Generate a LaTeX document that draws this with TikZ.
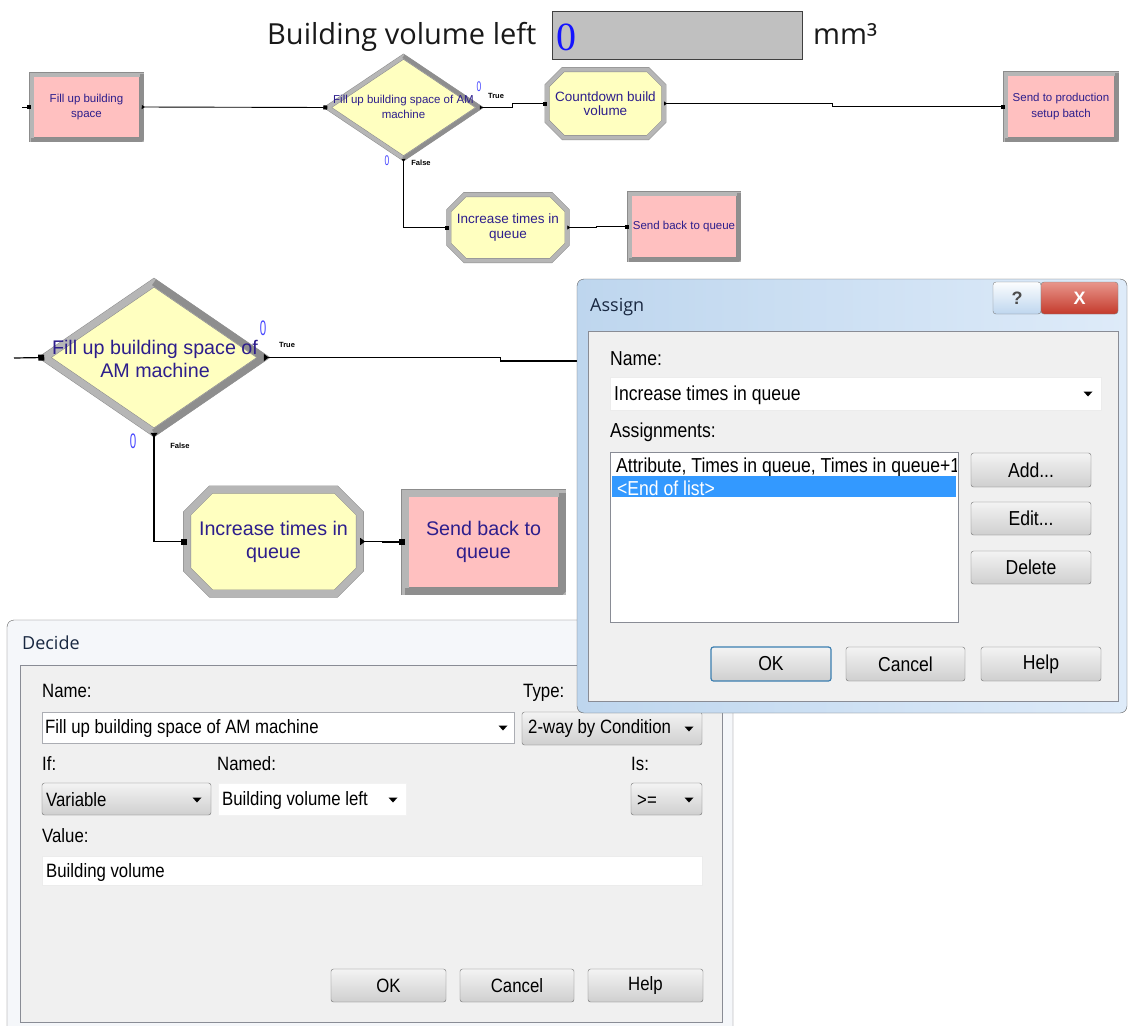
\documentclass[tikz,border=0pt]{standalone}
\usepackage{fontspec}
\usepackage{graphicx}
\setmainfont{Liberation Sans}
\newfontfamily\uifont{Open Sans}
\newfontfamily\numfont{Liberation Serif}
\newfontfamily\dlgfamily[FakeStretch=0.87]{Liberation Sans}
\usetikzlibrary{arrows.meta,shapes.geometric,shapes.misc}

\definecolor{modpink}{RGB}{255,192,192}
\definecolor{modyel}{RGB}{255,255,192}
\definecolor{bevgray}{RGB}{182,182,182}
\definecolor{bevdark}{RGB}{140,140,140}
\definecolor{bevshade}{RGB}{142,142,142}
\definecolor{modtext}{RGB}{45,30,140}
\definecolor{cntblue}{RGB}{70,70,255}
\definecolor{valblue}{RGB}{20,20,255}
\definecolor{boxgray}{RGB}{192,192,192}
\definecolor{panel}{RGB}{240,240,240}
\definecolor{paneledge}{RGB}{137,140,149}
\definecolor{selblue}{RGB}{51,153,255}
\definecolor{boxedge}{RGB}{171,173,179}
\definecolor{btnedge}{RGB}{112,112,112}
\definecolor{btntop}{RGB}{243,243,243}
\definecolor{btnbot}{RGB}{207,207,207}
\definecolor{framewhite}{RGB}{245,247,250}
\definecolor{frameedge}{RGB}{95,95,95}
\definecolor{glassA}{RGB}{190,214,238}
\definecolor{glassB}{RGB}{222,235,249}
\definecolor{titletext}{RGB}{25,40,65}
\definecolor{defbtn}{RGB}{60,127,177}

\newcommand\fsm{\fontsize{11.5}{15.5}\selectfont}
\newcommand\fas{\fontsize{13.5}{14.5}\selectfont}
\newcommand\fbig{\fontsize{19.7}{23}\selectfont}
\newcommand\dlgA{\dlgfamily\fontsize{20.2}{22}\selectfont}
\newcommand\dlgD{\dlgfamily\fontsize{19.3}{21}\selectfont}
\newcommand\wintitle{\uifont\fontsize{18}{20}\selectfont}

\begin{document}
\begin{tikzpicture}[x=1pt, y=-1pt,
    bevel/.style={draw=bevdark, line width=0.5pt, double=bevgray, double distance=#1},
    pinksm/.style={rectangle, bevel=4pt, fill=modpink, text=modtext, align=center, inner sep=0pt},
    pinkbig/.style={rectangle, bevel=7pt, fill=modpink, text=modtext, align=center, inner sep=0pt},
    yelsm/.style={chamfered rectangle, chamfered rectangle xsep=8pt, chamfered rectangle ysep=8pt,
      bevel=4pt, fill=modyel, text=modtext, align=center, inner sep=0pt},
    yelbig/.style={chamfered rectangle, chamfered rectangle xsep=12pt, chamfered rectangle ysep=12pt,
      bevel=7pt, fill=modyel, text=modtext, align=center, inner sep=0pt},
    decsm/.style={diamond, bevel=4pt, fill=modyel, inner sep=0pt},
    decbig/.style={diamond, bevel=7pt, fill=modyel, inner sep=0pt},
    shadesm/.style={draw=bevshade, line width=4pt, line join=bevel},
    shadebig/.style={draw=bevshade, line width=7pt, line join=bevel},
    dtxt/.style={text=modtext, align=center, inner sep=0pt},
    cnt/.style={text=cntblue, inner sep=0pt},
    tf/.style={font=\bfseries\fontsize{7.5}{8}\selectfont, inner sep=0pt},
    link/.style={line width=0.9pt, {Triangle[reversed,length=3pt,width=4pt]}-{Square[length=4pt,width=4pt]}},
    stub/.style={line width=0.9pt, -{Square[length=4pt,width=4pt]}},
    biglink/.style={line width=1.2pt, {Triangle[reversed,length=5pt,width=7pt]}-{Square[length=6pt,width=6pt]}},
    bigstub/.style={line width=1.2pt, -{Square[length=6pt,width=6pt]}},
    bigout/.style={line width=1.2pt, {Triangle[reversed,length=5pt,width=7pt]}-},
    lbl/.style={anchor=base west, inner sep=0pt},
    wbox/.style={draw=boxedge, fill=white, inner sep=0pt},
    gbtn/.style={draw=btnedge, rounded corners=2.5pt, top color=btntop, bottom color=btnbot, inner sep=0pt},
  ]
  \useasboundingbox (0,0) rectangle (1128,1026);
  \clip (0,0) rectangle (1128,1026);
  \fill[white] (0,0) rectangle (1128,1026);

  % variable display
  \node[lbl, font=\uifont\fontsize{29}{30}\selectfont, text=black!90] (bvlabel) at (267,44) {Building volume left};
  \node[draw=black!75, line width=1.2pt, fill=boxgray, minimum width=250pt, minimum height=48pt, inner sep=0pt] (bvbox) at (677.5,35.5) {};
  \node[lbl, font=\numfont\fontsize{40}{40}\selectfont, text=valblue] (bvval) at (556,50) {0};
  \node[lbl, font=\uifont\fontsize{29}{30}\selectfont, text=black!90] (bvunit) at (813,44) {mm³};

  % small flowchart
  \node[pinksm, minimum width=110pt, minimum height=65pt, font=\fsm] (fillA) at (86.5,107) {Fill up building\\space};
  \node[decsm, minimum width=152pt, minimum height=102pt] (d1) at (403.5,107.5) {};
  \node[yelsm, minimum width=116pt, minimum height=68pt, font=\fas] (cntA) at (605.5,103.5) {Countdown build\\volume};
  \node[pinksm, minimum width=111pt, minimum height=66pt, font=\fsm] (sendP) at (1061,106.5) {Send to production\\setup batch};
  \node[yelsm, minimum width=115pt, minimum height=66pt, font=\fas] (incA) at (508,227.5) {Increase times in\\queue};
  \node[pinksm, minimum width=109pt, minimum height=66pt, font=\fsm] (backA) at (684,226.5) {Send back to queue};
  \foreach \m in {fillA, sendP, backA}
    \draw[shadesm] (\m.north east) -- (\m.south east) -- (\m.south west);
  \draw[shadesm] (d1.north) -- (d1.east) -- (d1.south);
  \node[dtxt, font=\fsm] (d1txt) at (403.5,107) {Fill up building space of AM\\machine};

  \node[cnt, font=\fontsize{14}{14}\selectfont] (d1cT) at (479,87) {\scalebox{0.6}[1]{0}};
  \node[tf] (d1T) at (496,96) {True};
  \node[cnt, font=\fontsize{14}{14}\selectfont] (d1cF) at (387,161) {\scalebox{0.6}[1]{0}};
  \node[tf] (d1F) at (421,163) {False};

  \coordinate (inA) at (22,107);
  \draw[stub] (inA) -- (fillA.west);
  \draw[link] (fillA.east) -- (d1.west);
  \draw[link] (d1.east) -- ++(33,0) |- (cntA.west);
  \draw[link] (cntA.east) -- ++(168,0) |- (sendP.west);
  \draw[link] (d1.south) |- (incA.west);
  \draw[link] (incA.east) -- ++(29,0) |- (backA.west);

  % enlarged part
  \node[decbig, minimum width=219pt, minimum height=150pt] (d2) at (154,357.5) {};
  \node[yelbig, minimum width=164pt, minimum height=104pt, font=\fbig] (incB) at (273.5,541.5) {Increase times in\\queue};
  \node[pinkbig, minimum width=157pt, minimum height=98pt, font=\fbig] (backB) at (483.5,542) {Send back to\\queue};
  \draw[shadebig] (backB.north east) -- (backB.south east) -- (backB.south west);
  \draw[shadebig] (d2.north) -- (d2.east) -- (d2.south);
  \node[dtxt, font=\fbig] (d2txt) at (155,358.5) {Fill up building space of\\AM machine};

  \node[cnt, font=\fontsize{21}{21}\selectfont] (d2cT) at (263,328) {\scalebox{0.55}[1]{0}};
  \node[tf] (d2T) at (287,345) {True};
  \node[cnt, font=\fontsize{21}{21}\selectfont] (d2cF) at (133,441) {\scalebox{0.55}[1]{0}};
  \node[tf] (d2F) at (180,446) {False};

  \coordinate (inB) at (14,358);
  \coordinate (offB) at (600,361);
  \draw[bigstub] (inB) -- (d2.west);
  \draw[bigout] (d2.east) -- ++(237,0) |- (offB);
  \draw[biglink] (d2.south) |- (incB.west);
  \draw[biglink] (incB.east) -- ++(22,0) |- (backB.west);

  % Decide dialog
  \draw[rounded corners=7pt, draw=frameedge, fill=framewhite] (7,620) rectangle (733,1050);
  \node[lbl, font=\wintitle, text=titletext] (dcTitle) at (22,649) {Decide};
  \draw[draw=paneledge, fill=panel] (20,665) rectangle (722,1022);
  \node[lbl, font=\dlgD] (dcNameL) at (42,697) {Name:};
  \node[lbl, font=\dlgD] (dcTypeL) at (523,697) {Type:};
  \node[wbox, minimum width=472pt, minimum height=31pt] (dcNameBox) at (278,727.5) {};
  \node[lbl, font=\dlgD] (dcName) at (45,733) {Fill up building space of AM machine};
  \node[gbtn, minimum width=180pt, minimum height=33pt] (dcTypeBox) at (612,728.5) {};
  \node[lbl, font=\dlgD] (dcType) at (528,733) {2-way by Condition};
  \node[lbl, font=\dlgD] (dcIfL) at (42,770) {If:};
  \node[lbl, font=\dlgD] (dcNamedL) at (217,770) {Named:};
  \node[lbl, font=\dlgD] (dcIsL) at (631,770) {Is:};
  \node[gbtn, minimum width=169pt, minimum height=32pt] (dcIfBox) at (126.5,799) {};
  \node[lbl, font=\dlgD] (dcIf) at (46,806) {Variable};
  \node[wbox, draw=white!90!gray, minimum width=188pt, minimum height=32pt] (dcNamedBox) at (312,799) {};
  \node[lbl, font=\dlgD] (dcNamed) at (222,805) {Building volume left};
  \node[gbtn, minimum width=71pt, minimum height=32pt] (dcIsBox) at (666.5,799) {};
  \node[lbl, font=\dlgD] (dcIs) at (637,806) {>=};
  \node[lbl, font=\dlgD] (dcValL) at (42,842) {Value:};
  \node[wbox, draw=white!85!gray, minimum width=660pt, minimum height=29pt] (dcValBox) at (372,870.5) {};
  \node[lbl, font=\dlgD] (dcVal) at (46,877) {Building volume};
  \node[gbtn, minimum width=115pt, minimum height=33pt, font=\dlgD] (dcOK) at (388.5,985.5) {OK};
  \node[gbtn, minimum width=114pt, minimum height=33pt, font=\dlgD] (dcCancel) at (517,985.5) {Cancel};
  \node[gbtn, minimum width=115pt, minimum height=33pt, font=\dlgD] (dcHelp) at (645.5,985.5) {Help};
  \foreach \x/\y in {503/728, 689/729, 197/800, 393/800, 689/800}
    \fill (\x,\y) ++(-4.5,-2.5) -- ++(9,0) -- ++(-4.5,5) -- cycle;

  % Assign dialog
  \draw[rounded corners=7pt, draw=frameedge, left color=glassA, right color=glassB] (577,279) rectangle (1127,713);
  \node[lbl, font=\wintitle, text=titletext] (asTitle) at (590,311) {Assign};
  \node[draw=frameedge!80, rounded corners=3pt, top color=white!90!glassB, bottom color=glassA,
    minimum width=48pt, minimum height=32pt, font=\bfseries\fontsize{18}{18}\selectfont, text=black!70] (asQ) at (1017,298) {?};
  \node[draw=frameedge!80, rounded corners=3pt, top color={rgb,255:red,232;green,150;blue,140}, bottom color={rgb,255:red,196;green,58;blue,44},
    minimum width=77pt, minimum height=32pt, font=\bfseries\fontsize{18}{18}\selectfont, text=white] (asX) at (1079.5,298) {X};
  \draw[draw=paneledge, fill=panel] (588,331) rectangle (1118,701);
  \node[lbl, font=\dlgA] (asNameL) at (610,365) {Name:};
  \node[wbox, draw=white!85!gray, minimum width=491pt, minimum height=33pt] (asNameBox) at (855.5,393.5) {};
  \node[lbl, font=\dlgA] (asName) at (614,400) {Increase times in queue};
  \node[lbl, font=\dlgA] (asListL) at (610,437) {Assignments:};
  \node[wbox, draw=paneledge, minimum width=348pt, minimum height=170pt] (asList) at (784,537) {};
  \begin{scope}
    \clip (611,453) rectangle (956,621);
    \node[lbl, font=\dlgA] (asItem) at (616,472) {Attribute, Times in queue, Times in queue+1};
  \end{scope}
  \node[fill=selblue, minimum width=344pt, minimum height=21pt, inner sep=0pt] (asSel) at (784,486.5) {};
  \node[lbl, font=\dlgA, text=white] (asEnd) at (617,495) {<End of list>};
  \node[gbtn, minimum width=120pt, minimum height=34pt, font=\dlgA] (asAdd) at (1031,470) {Add...};
  \node[gbtn, minimum width=120pt, minimum height=33pt, font=\dlgA] (asEdit) at (1031,518.5) {Edit...};
  \node[gbtn, minimum width=120pt, minimum height=33pt, font=\dlgA] (asDel) at (1031,567.5) {Delete};
  \node[gbtn, draw=defbtn, line width=1.2pt, minimum width=120pt, minimum height=34pt, font=\dlgA] (asOK) at (771,664) {OK};
  \node[gbtn, minimum width=119pt, minimum height=34pt, font=\dlgA] (asCancel) at (905.5,664) {Cancel};
  \node[gbtn, minimum width=120pt, minimum height=34pt, font=\dlgA] (asHelp) at (1041,664) {Help};
  \foreach \x/\y in {1088/394}
    \fill (\x,\y) ++(-4.5,-2.5) -- ++(9,0) -- ++(-4.5,5) -- cycle;
\end{tikzpicture}
\end{document}
